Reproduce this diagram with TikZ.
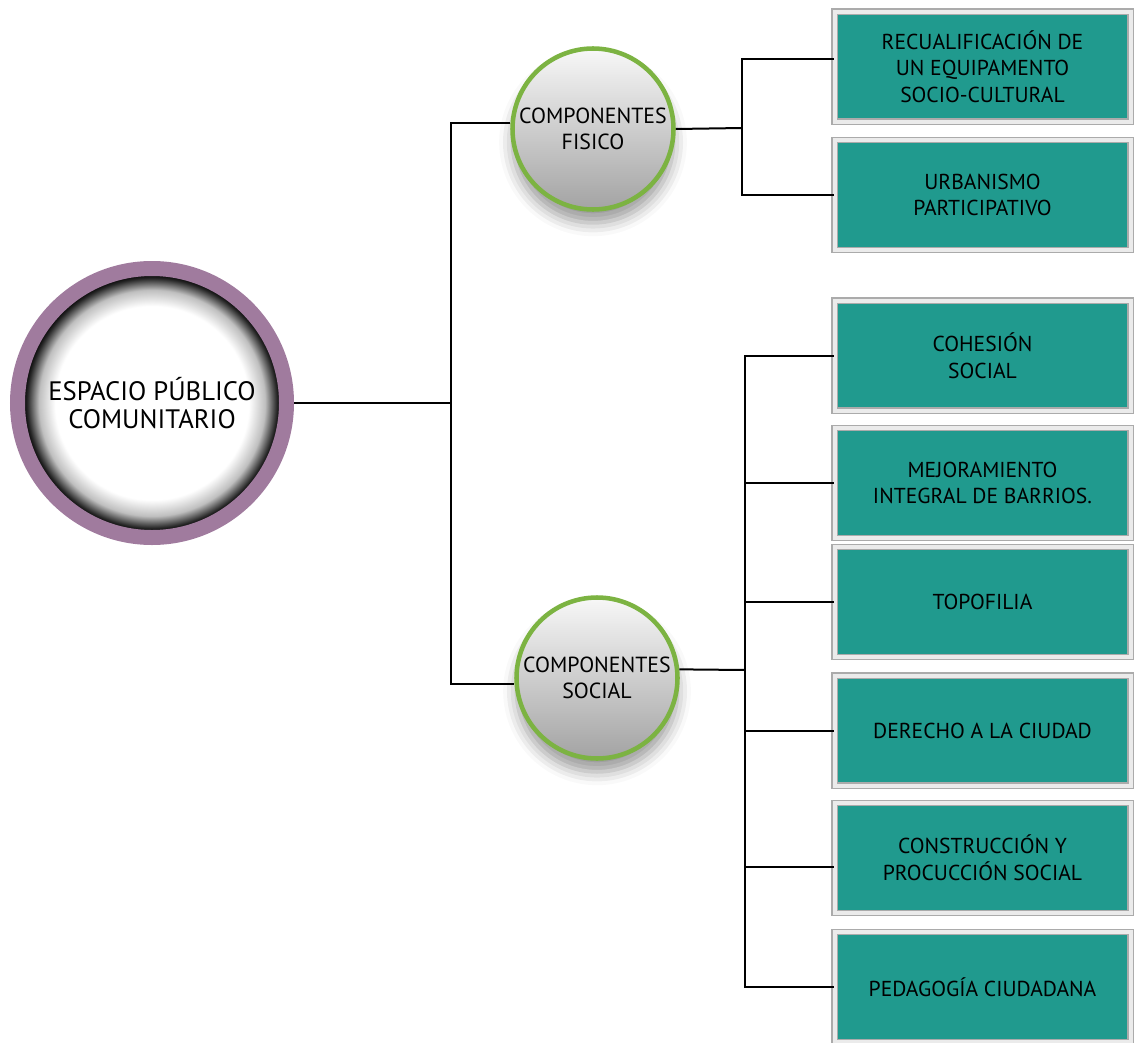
\documentclass[tikz,border=0pt]{standalone}
\usepackage{fontspec}
\setmainfont{PT Sans}
\usetikzlibrary{shadows.blur}
\definecolor{ringpurple}{HTML}{A07B9E}
\definecolor{leafgreen}{HTML}{7CB342}
\definecolor{boxteal}{HTML}{209A8E}
\pgfdeclareradialshading{rimshade}{\pgfpoint{0bp}{0bp}}{color(0bp)=(white); color(18bp)=(white); color(21bp)=(black!25); color(23.2bp)=(black!85); color(24bp)=(black); color(50bp)=(black)}
\begin{document}
\begin{tikzpicture}[x=0.75pt,y=-0.75pt,
    link/.style={line width=1.5pt, black},
    hub/.style={circle, draw=ringpurple, line width=11.25pt, minimum size=201.75pt,
        inner sep=0pt, shading=rimshade, align=center, font=\fontsize{20}{20.5}\selectfont},
    branch/.style={circle, draw=leafgreen, line width=3.4pt, minimum size=120.75pt,
        inner sep=0pt, top color=black!3, middle color=black!14, bottom color=black!36, align=center,
        font=\fontsize{16.4}{19.5}\selectfont,
        blur shadow={shadow xshift=0pt, shadow yshift=-10pt, shadow blur radius=10pt, shadow opacity=40}},
    leaf/.style={rectangle, fill=boxteal, draw=black!33, double=black!8, line width=1.1pt,
        double distance=3pt, minimum width=222pt, minimum height=82.5pt, align=center,
        font=\fontsize{16.2}{20}\selectfont}]
    \useasboundingbox (0,0) rectangle (1134,1042);

    \node[hub] (espacio) at (152,403) {ESPACIO PÚBLICO\\COMUNITARIO};
    \node[branch] (fisico) at (593,129) {COMPONENTES\\FISICO};
    \node[branch] (social) at (597,678) {COMPONENTES\\SOCIAL};

    \node[leaf] (recual) at (982.5,66.5) {RECUALIFICACIÓN DE\\UN EQUIPAMENTO\\SOCIO-CULTURAL};
    \node[leaf] (urban) at (982.5,195) {URBANISMO\\PARTICIPATIVO};

    \node[leaf] (cohesion) at (982.5,355.5) {COHESIÓN\\SOCIAL};
    \node[leaf] (mejora) at (982.5,483) {MEJORAMIENTO\\INTEGRAL DE BARRIOS.};
    \node[leaf] (topo) at (982.5,602) {TOPOFILIA};
    \node[leaf] (derecho) at (982.5,730.5) {DERECHO A LA CIUDAD};
    \node[leaf] (constr) at (982.5,858) {CONSTRUCCIÓN Y\\PROCUCCIÓN SOCIAL};
    \node[leaf] (pedago) at (982.5,987) {PEDAGOGÍA CIUDADANA};

    \coordinate (trunk) at (451,403);
    \coordinate (fisjoint) at (742,128);
    \coordinate (socjoint) at (745,670);
    \coordinate (recualtap) at ([yshift=5.6pt]recual.west);
    \coordinate (constrtap) at ([yshift=-6.75pt]constr.west);

    \draw[link] (espacio) -- (trunk);
    \draw[link] (fisico.176) -| (trunk) |- (social.184);

    \draw[link] (fisico.east) -- (fisjoint);
    \draw[link] (recualtap) -| (fisjoint) |- (urban.west);

    \draw[link] (social.6) -- (socjoint);
    \draw[link] (cohesion.west) -| (socjoint) |- (pedago.west);
    \foreach \b in {mejora,topo,derecho}
        \draw[link] (\b.west) -- (socjoint |- \b.west);
    \draw[link] (constrtap) -- (socjoint |- constrtap);
\end{tikzpicture}
\end{document}
